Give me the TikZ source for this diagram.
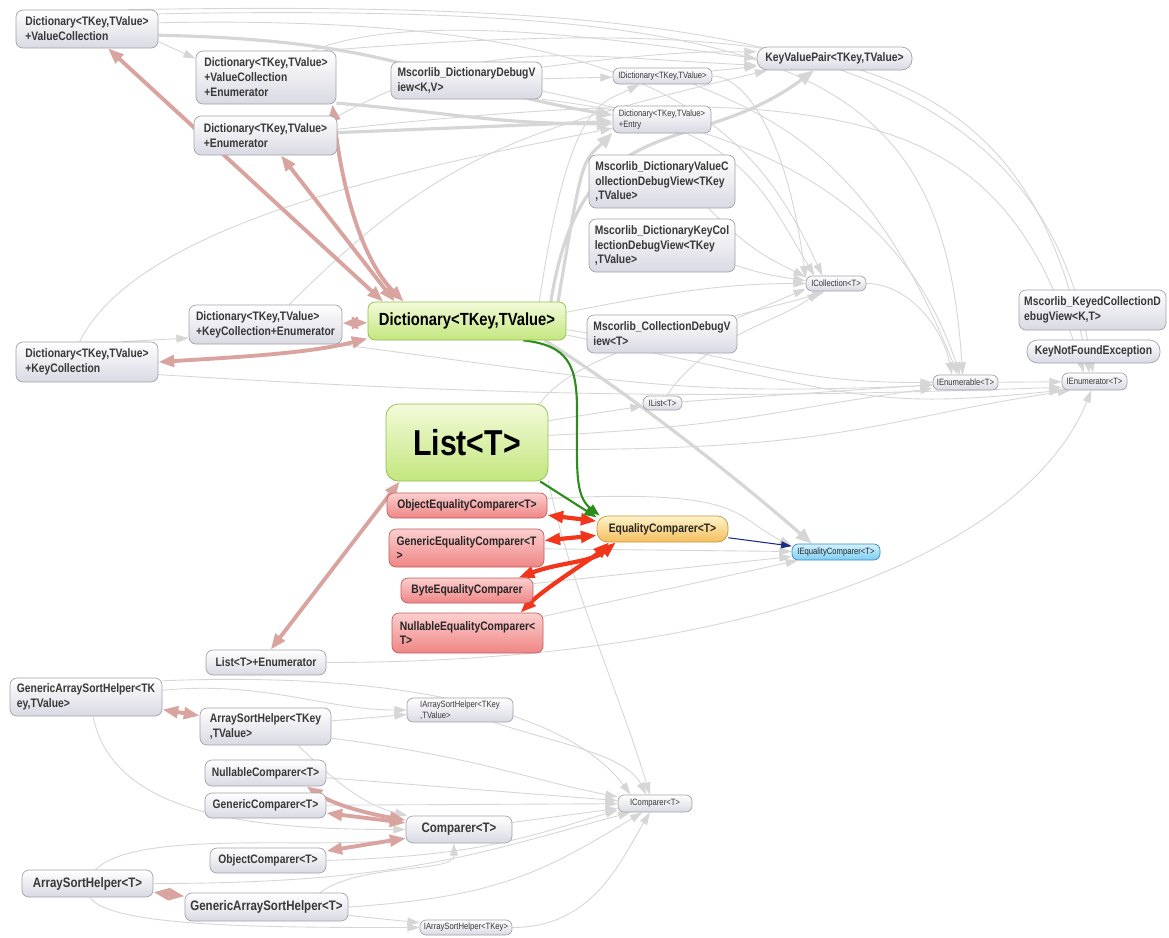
\documentclass[tikz,border=0pt]{standalone}
\usepackage{fontspec}
\newfontfamily\lblfont{Liberation Sans}[FakeStretch=0.84]
\usetikzlibrary{arrows.meta, backgrounds}

\definecolor{clsgray}{HTML}{D9D9E3}
\definecolor{clsline}{HTML}{A2A2AC}
\definecolor{edgegray}{HTML}{D6D6D6}
\definecolor{nestpink}{HTML}{D9A39F}
\definecolor{nestred}{HTML}{F2361C}
\definecolor{inhgreen}{HTML}{2C8C1C}
\definecolor{implnavy}{HTML}{1E2A8A}
\definecolor{hubtop}{HTML}{F3FBDA}
\definecolor{hubbot}{HTML}{C3E67E}
\definecolor{hubline}{HTML}{8CBF4A}
\definecolor{eqtop}{HTML}{FCCFCF}
\definecolor{eqbot}{HTML}{EF8585}
\definecolor{eqline}{HTML}{C25E5E}
\definecolor{basetop}{HTML}{FFF3C8}
\definecolor{basebot}{HTML}{F5BE5E}
\definecolor{baseedge}{HTML}{C99445}
\definecolor{ieqtop}{HTML}{D2F2FF}
\definecolor{ieqbot}{HTML}{7ECDF2}
\definecolor{ieqline}{HTML}{3A88C4}

\newcommand\clsfont{\lblfont\bfseries\fontsize{7}{8.5}\selectfont}
\newcommand\bigclsfont{\lblfont\bfseries\fontsize{7.8}{9}\selectfont}
\newcommand\ifcfont{\lblfont\fontsize{5.2}{6.2}\selectfont}
\newcommand\dictfont{\lblfont\bfseries\fontsize{10}{12}\selectfont}
\newcommand\listfont{\lblfont\bfseries\fontsize{20.5}{24}\selectfont}

\begin{document}
\begin{tikzpicture}[x=0.02cm, y=-0.02cm,
  wh/.style 2 args={minimum width=#1*0.02cm, minimum height=#2*0.02cm},
  cls/.style={draw=clsline, line width=0.4pt, rounded corners=4pt, top color=white,
              bottom color=clsgray, text=black!78, font=\clsfont, align=left, inner sep=1pt},
  iface/.style={cls, rounded corners=3.5pt, font=\ifcfont, align=center},
  hub/.style={cls, draw=hubline, top color=hubtop, bottom color=hubbot, text=black},
  eqimpl/.style={cls, draw=eqline, top color=eqtop, bottom color=eqbot, text=black!85},
  eqbase/.style={cls, rounded corners=6pt, draw=baseedge, top color=basetop, bottom color=basebot, text=black!85},
  ieq/.style={iface, draw=ieqline, top color=ieqtop, bottom color=ieqbot, text=black!85},
  dep/.style={-{Triangle[length=7pt,width=4.5pt]}, draw=edgegray, line width=0.5pt},
  depthick/.style={-{Triangle[length=9pt,width=7pt]}, draw=edgegray, line width=1.8pt},
  nest/.style={{Triangle[length=9pt,width=6.5pt]}-{Triangle[length=9pt,width=6.5pt]}, draw=nestpink, line width=2.2pt},
  nestbold/.style={nest, draw=nestred, line width=2.4pt},
  inherit/.style={-{Triangle[length=7pt,width=5pt]}, draw=inhgreen, line width=1.2pt},
  impl/.style={-{Triangle[length=6pt,width=4pt]}, draw=implnavy, line width=0.6pt}
]
  \useasboundingbox (0,0) rectangle (1169,937);

  % Dictionary and its nested types
  \node[cls, wh={142}{38}] (dvc) at (87,29) {Dictionary<TKey,TValue>\\+ValueCollection};
  \node[cls, wh={140}{53}] (dvce) at (266,77.5) {Dictionary<TKey,TValue>\\+ValueCollection\\+Enumerator};
  \node[cls, wh={143}{39}] (de) at (265.5,135.5) {Dictionary<TKey,TValue>\\+Enumerator};
  \node[cls, wh={153}{39}] (dkce) at (265.5,324.5) {Dictionary<TKey,TValue>\\+KeyCollection+Enumerator};
  \node[cls, wh={142}{40}] (dkc) at (87,362) {Dictionary<TKey,TValue>\\+KeyCollection};
  \node[hub, wh={198}{38}, font=\dictfont] (dict) at (467,321) {Dictionary<TKey,TValue>};

  % Debug views and helpers
  \node[cls, wh={151}{37}] (mddv) at (466.5,80.5) {Mscorlib\_DictionaryDebugV\\iew<K,V>};
  \node[cls, wh={146}{53}] (mdvcdv) at (662,181.5) {Mscorlib\_DictionaryValueC\\ollectionDebugView<TKey\\,TValue>};
  \node[cls, wh={146}{53}] (mdkcdv) at (662,245.5) {Mscorlib\_DictionaryKeyCol\\lectionDebugView<TKey\\,TValue>};
  \node[cls, wh={150}{38}] (mcdv) at (662,334) {Mscorlib\_CollectionDebugV\\iew<T>};
  \node[cls, wh={147}{40}] (mkcdv) at (1092.5,310) {Mscorlib\_KeyedCollectionD\\ebugView<K,T>};
  \node[cls, wh={133}{23}, rounded corners=6pt] (knfe) at (1093.5,351.5) {KeyNotFoundException};
  \node[cls, wh={155}{23}, rounded corners=6pt] (kvp) at (834.5,58.5) {KeyValuePair<TKey,TValue>};

  % Interfaces
  \node[iface, wh={99}{16}] (idict) at (662.5,76) {IDictionary<TKey,TValue>};
  \node[iface, wh={98}{27}, align=left] (dentry) at (662,119.5) {Dictionary<TKey,TValue>\\+Entry};
  \node[iface, wh={60}{15}] (icoll) at (836,283.5) {ICollection<T>};
  \node[iface, wh={65}{15}] (ienumerable) at (965.5,382.5) {IEnumerable<T>};
  \node[iface, wh={65}{17}] (ienumerator) at (1094.5,381.5) {IEnumerator<T>};
  \node[iface, wh={39}{14}] (ilist) at (662.5,403) {IList<T>};

  % List and equality comparers
  \node[hub, wh={162}{77}, rounded corners=7pt, font=\listfont] (list) at (467,442.5) {List<T>};
  \node[eqimpl, wh={160}{25}] (objeq) at (467,505.5) {ObjectEqualityComparer<T>};
  \node[eqimpl, wh={155}{38}] (geneq) at (466.5,548) {GenericEqualityComparer<T\\>};
  \node[eqimpl, wh={132}{25}] (byteeq) at (467,590.5) {ByteEqualityComparer};
  \node[eqimpl, wh={151}{40}] (nulleq) at (467.5,633) {NullableEqualityComparer<\\T>};
  \node[eqbase, wh={131}{26}] (eqc) at (662.5,529) {EqualityComparer<T>};
  \node[ieq, wh={88}{16}] (ieqc) at (836,552) {IEqualityComparer<T>};
  \node[cls, wh={120}{25}] (listenum) at (266,662.5) {List<T>+Enumerator};

  % Sort helpers and comparers
  \node[cls, wh={152}{38}] (gash2) at (86,697) {GenericArraySortHelper<TK\\ey,TValue>};
  \node[cls, wh={131}{37}] (ash2) at (265.5,726.5) {ArraySortHelper<TKey\\,TValue>};
  \node[iface, wh={106}{24}, align=left] (iash2) at (460,710) {IArraySortHelper<TKey\\,TValue>};
  \node[cls, wh={121}{26}] (nullcmp) at (265.5,773) {NullableComparer<T>};
  \node[cls, wh={121}{25}] (gencmp) at (265.5,805.5) {GenericComparer<T>};
  \node[cls, wh={106}{27}, font=\bigclsfont] (cmp) at (459,829.5) {Comparer<T>};
  \node[cls, wh={116}{25}] (objcmp) at (268,860.5) {ObjectComparer<T>};
  \node[cls, wh={131}{27}, font=\bigclsfont] (ash1) at (87.5,883.5) {ArraySortHelper<T>};
  \node[cls, wh={163}{28}, font=\bigclsfont] (gash1) at (266.5,907) {GenericArraySortHelper<T>};
  \node[iface, wh={92}{15}] (iash1) at (466,927.5) {IArraySortHelper<TKey>};
  \node[iface, wh={74}{17}] (icmp) at (655,803.5) {IComparer<T>};

  \begin{scope}[on background layer]
  \fill[white] (0,0) rectangle (1169,937);

  % Heavy dependencies
  \draw[depthick] (dict.13) .. controls +(32,-200) and +(-120,90) .. (kvp.210);
  \draw[depthick] (dict.12) .. controls +(25,-150) and +(-30,30) .. (dentry.195);
  \draw[depthick] (dvce.-20) .. controls +(120,10) and +(-120,0) .. (dentry.185);
  \draw[depthick] (de) -- (dentry);
  \draw[depthick] (dvc.-5) .. controls +(250,5) and +(-180,-30) .. (dentry.175);
  \draw[depthick] (dict.-14) .. controls +(80,50) and +(-80,-70) .. (ieqc.161);

  % Upper dependencies
  \draw[dep] (dvc.-10) -- (dvce.165);
  \draw[dep] (dvc.25) .. controls +(600,-10) and +(-50,-330) .. (ienumerator.100);
  \draw[dep] (dvc.12) .. controls +(650,-12) and +(-20,-300) .. (ienumerable.110);
  \draw[dep] (dvc.5) .. controls +(500,-10) and +(-70,-150) .. (icoll.150);
  \draw[dep] (dvce.25) .. controls +(550,-45) and +(-60,-300) .. (ienumerator.120);
  \draw[dep] (dvce.30) .. controls +(100,-40) and +(-150,-20) .. (kvp.180);
  \draw[dep] (de.15) .. controls +(150,-80) and +(-200,-10) .. (kvp.185);
  \draw[dep] (de.5) .. controls +(550,-60) and +(-80,-250) .. (ienumerator.140);
  \draw[dep] (mddv) -- (idict);
  \draw[dep] (mddv.10) .. controls +(120,-15) and +(-60,0) .. (kvp.175);
  \draw[dep] (mddv.-8) .. controls +(200,40) and +(-60,-100) .. (icoll.160);
  \draw[dep] (mddv.-14) .. controls +(250,30) and +(-50,-150) .. (ienumerable.125);
  \draw[dep] (idict) -- (kvp);
  \draw[dep] (idict.east) .. controls +(30,0) and +(-20,-150) .. (icoll.170);
  \draw[dep] (idict.-15) .. controls +(100,40) and +(-80,-200) .. (ienumerable.135);
  \draw[dep] (dict.15) .. controls +(30,-200) and +(-40,20) .. (idict.200);

  % Keys side
  \draw[dep] (dkc.30) -- (dkce.190);
  \draw[dep] (dkc.110) .. controls +(60,-120) and +(-200,40) .. (dentry.190);
  \draw[dep] (dkce.40) .. controls +(150,-150) and +(-250,60) .. (kvp.190);
  \draw[dep] (dkc.-10) .. controls +(400,25) and +(-300,10) .. (ienumerator.190);
  \draw[dep] (dkce.-15) .. controls +(300,40) and +(-250,10) .. (ienumerable.185);
  \draw[dep] (dict.5) .. controls +(100,-20) and +(-80,0) .. (icoll.180);
  \draw[dep] (dict.-5) .. controls +(200,30) and +(-150,0) .. (ienumerable.180);
  \draw[dep] (dict.-8) .. controls +(300,60) and +(-200,20) .. (ienumerator.195);

  % Debug views to ICollection
  \draw[dep] (mdvcdv.-30) .. controls +(40,40) and +(-40,-20) .. (icoll.168);
  \draw[dep] (mdkcdv.-15) .. controls +(30,10) and +(-30,-5) .. (icoll.175);
  \draw[dep] (mcdv.12) -- (icoll.190);

  % Interface chain
  \draw[dep] (icoll.east) .. controls +(40,0) and +(-10,-50) .. (ienumerable.150);
  \draw[dep] (ienumerable) -- (ienumerator);
  \draw[dep] (ilist) -- (ienumerable);
  \draw[dep] (ilist.60) .. controls +(40,-60) and +(-40,30) .. (icoll.205);

  % List
  \draw[dep] (list.15) -- (ilist);
  \draw[dep] (list.28) .. controls +(40,-60) and +(-60,20) .. (icoll.215);
  \draw[dep] (list.5) .. controls +(200,-10) and +(-150,20) .. (ienumerable.190);
  \draw[dep] (list.-5) .. controls +(300,0) and +(-200,30) .. (ienumerator.200);
  \draw[dep] (list.-25) .. controls +(20,100) and +(-30,-100) .. (icmp.120);
  \draw[dep] (listenum.east) .. controls +(450,0) and +(-60,150) .. (ienumerator.-110);

  % Equality comparers to interface
  \draw[dep] (objeq.5) .. controls +(200,-10) and +(-60,-30) .. (ieqc.172);
  \draw[dep] (geneq) -- (ieqc);
  \draw[dep] (byteeq) -- (ieqc);
  \draw[dep] (nulleq) -- (ieqc);

  % Sort helpers and comparers
  \draw[dep] (gash2.5) .. controls +(100,-10) and +(-80,0) .. (iash2.west);
  \draw[dep] (ash2) -- (iash2);
  \draw[dep] (gash2.12) .. controls +(250,-10) and +(-60,-80) .. (icmp.160);
  \draw[dep] (iash2.-20) .. controls +(60,20) and +(-20,-40) .. (icmp.135);
  \draw[dep] (ash2.-10) .. controls +(150,20) and +(-100,-20) .. (icmp.170);
  \draw[dep] (ash2.-30) .. controls +(40,40) and +(-40,-10) .. (cmp.165);
  \draw[dep] (gash2.-70) .. controls +(20,100) and +(-150,0) .. (cmp.west);
  \draw[dep] (nullcmp) -- (icmp);
  \draw[dep] (gencmp) -- (icmp);
  \draw[dep] (cmp) -- (icmp);
  \draw[dep] (objcmp.east) .. controls +(150,-5) and +(-100,30) .. (icmp.190);
  \draw[dep] (ash1.east) .. controls +(250,0) and +(-150,40) .. (icmp.200);
  \draw[dep] (gash1.east) .. controls +(150,-10) and +(-100,60) .. (icmp.215);
  \draw[dep] (ash1.60) .. controls +(40,-40) and +(-100,10) .. (cmp.190);
  \draw[dep] (gash1.15) .. controls +(40,-30) and +(0,30) .. (cmp.-110);
  \draw[dep] (ash1.-80) .. controls +(20,30) and +(-150,0) .. (iash1.west);
  \draw[dep] (gash1) -- (iash1);
  \draw[dep] (iash1.east) .. controls +(80,0) and +(-30,50) .. (icmp.-120);

  % Nested types
  \draw[nest] (dvc) -- (dict.167);
  \draw[nest] (dvce.-22) .. controls +(10,90) and +(-40,-40) .. (dict.163);
  \draw[nest] (de) -- (dict.165);
  \draw[nest] (dkce) -- (dict);
  \draw[nest] (dkc.east) .. controls +(80,-5) and +(-60,15) .. (dict.190);
  \draw[nest] (list.210) -- (listenum.70);
  \draw[nestbold] (objeq) -- (eqc);
  \draw[nestbold] (geneq) -- (eqc);
  \draw[nestbold] (byteeq.14) .. controls +(40,-15) and +(-25,20) .. (eqc.196);
  \draw[nestbold] (nulleq.21) .. controls +(25,-25) and +(-15,15) .. (eqc.194);
  \draw[nest] (nullcmp.-18) .. controls +(30,20) and +(-30,-5) .. (cmp.170);
  \draw[nest] (gencmp) -- (cmp);
  \draw[nest] (objcmp) -- (cmp);
  \draw[nest] (gash2) -- (ash2);
  \draw[nest] (ash1) -- (gash1);

  % Inheritance
  \draw[inherit] (dict.-19) .. controls +(45,5) and +(0,-45) .. (577,410)
                 .. controls +(0,60) and +(-25,-20) .. (eqc.168);
  \draw[inherit] (list.-28) -- (eqc.170);
  \draw[impl] (eqc) -- (ieqc);
  \end{scope}
\end{tikzpicture}
\end{document}
